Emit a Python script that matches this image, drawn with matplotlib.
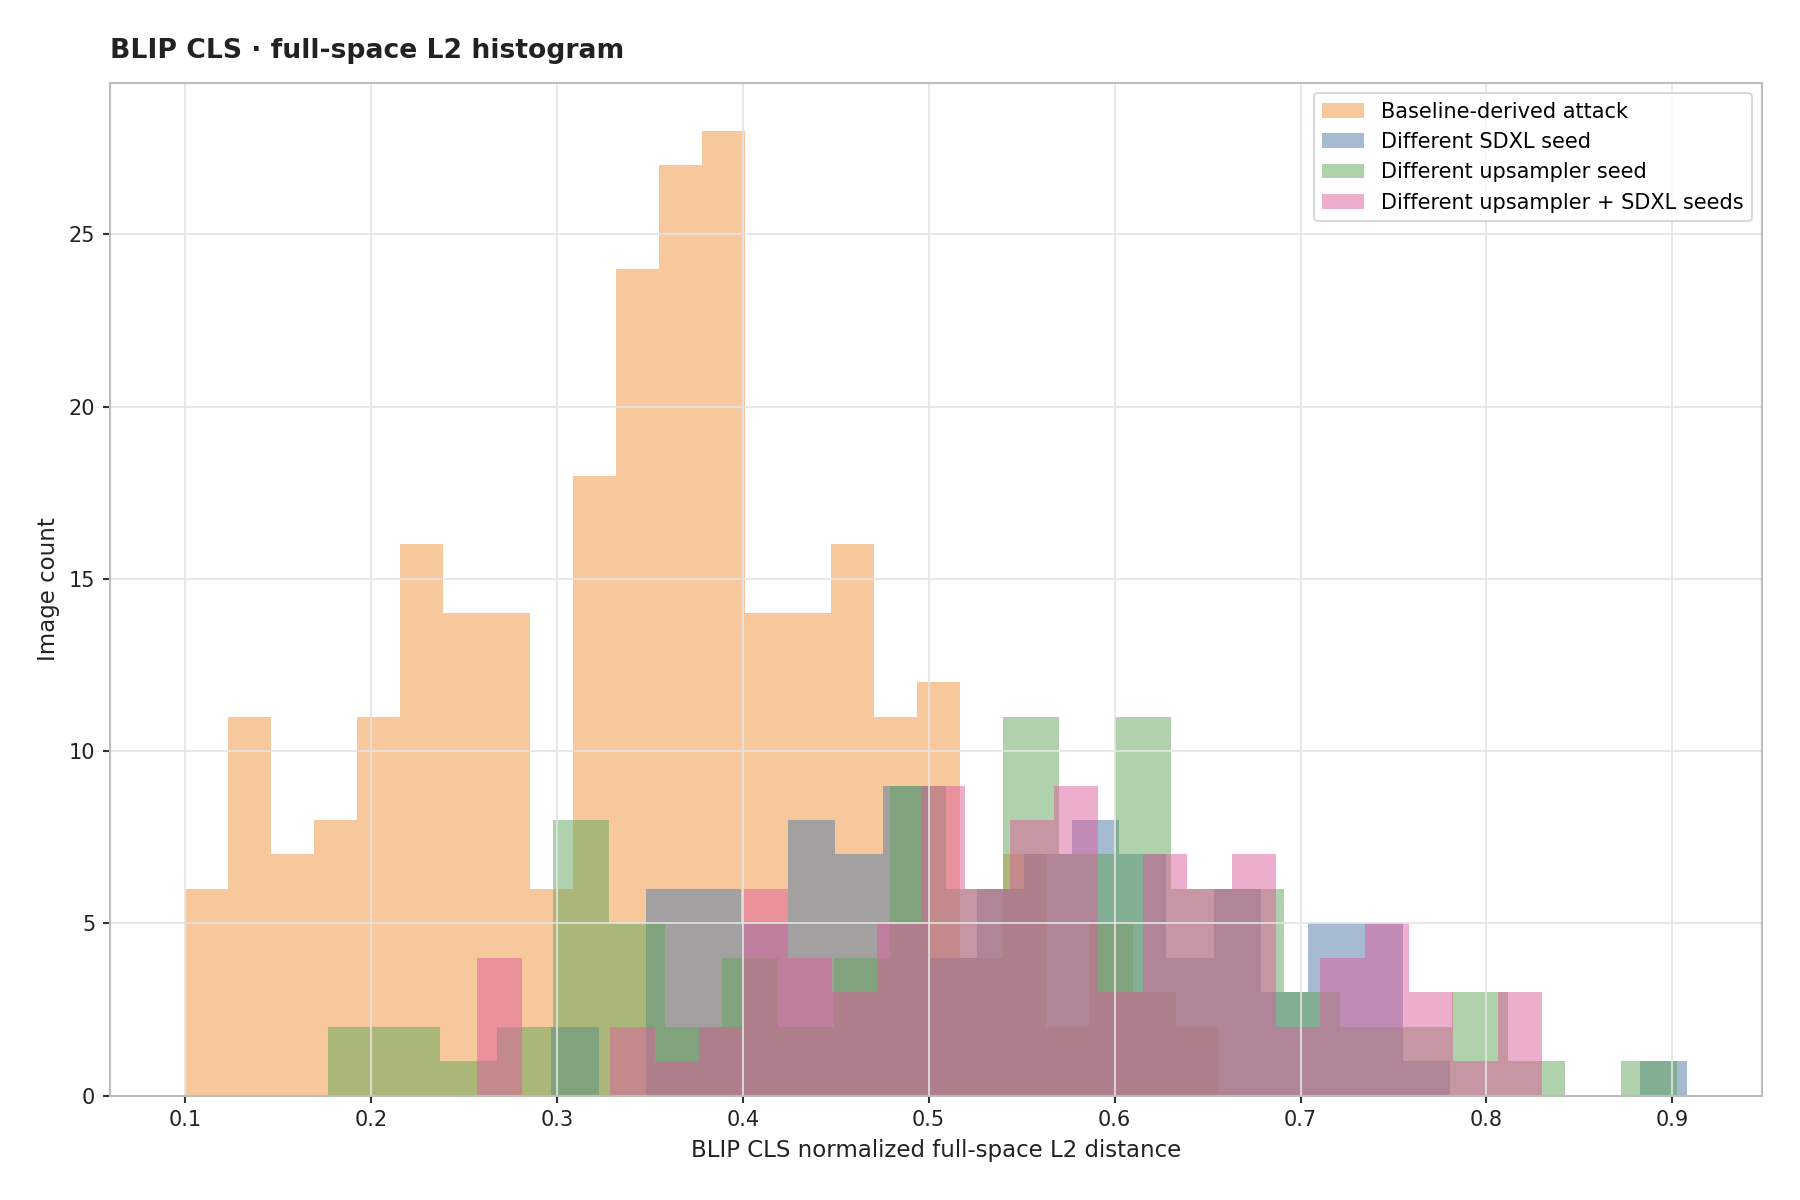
import numpy as np
import matplotlib
matplotlib.use("Agg")
import matplotlib.pyplot as plt

# -- 24 bins per set, spanning min..max of each set of distances
n_bins = 24
baseline_range = (0.1000, 0.6560)
sdxl_range = (0.2970, 0.9079)
ups_range = (0.1770, 0.9025)
both_range = (0.2572, 0.8300)

# -- image counts per bin
baseline_counts = [6, 11, 7, 8, 11, 16, 14, 14, 6, 18, 24, 27,
                   28, 14, 14, 16, 11, 12, 4, 7, 2, 5, 3, 2]
sdxl_counts = [2, 0, 6, 6, 5, 8, 7, 9, 4, 6, 7, 8,
               7, 4, 6, 3, 5, 5, 1, 0, 0, 0, 0, 1]
ups_counts = [2, 2, 1, 2, 8, 5, 2, 4, 2, 4, 9, 6,
              11, 7, 11, 6, 6, 3, 2, 2, 3, 1, 0, 1]
both_counts = [4, 0, 0, 2, 1, 2, 6, 4, 3, 5, 9, 6,
               8, 9, 3, 7, 6, 7, 2, 4, 5, 3, 1, 3]

labels = ["Baseline-derived attack", "Different SDXL seed",
          "Different upsampler seed", "Different upsampler + SDXL seeds"]
colors = ["#F0923A", "#4E79A7", "#60A558", "#DD5D9B"]


def main():
    fig = plt.figure(figsize=(12, 8), dpi=150)
    ax = fig.add_axes([0.061, 0.087, 0.918, 0.844])

    series = [(baseline_counts, baseline_range),
              (sdxl_counts, sdxl_range),
              (ups_counts, ups_range),
              (both_counts, both_range)]
    for (counts, rng), lab, col in zip(series, labels, colors):
        edges = np.linspace(rng[0], rng[1], n_bins + 1)
        ax.stairs(counts, edges, fill=True, color=col, alpha=0.5,
                  linewidth=0, label=lab)

    ax.set_xticks(np.arange(0.1, 0.95, 0.1))
    ax.set_yticks([0, 5, 10, 15, 20, 25])
    ax.grid(True, color="#E4E4E4", linewidth=0.8)
    for sp in ax.spines.values():
        sp.set_color("#B9C0B9")
        sp.set_linewidth(1.0)
    ax.tick_params(colors="#333333", labelcolor="#222222", length=3.5,
                   width=1, labelsize=10)

    ax.set_title("BLIP CLS · full-space L2 histogram", loc="left",
                 fontsize=12.8, fontweight="bold", color="#222222", pad=12)
    ax.set_xlabel("BLIP CLS normalized full-space L2 distance",
                  fontsize=11, color="#222222")
    ax.set_ylabel("Image count", fontsize=11, color="#222222")

    leg = ax.legend(loc="upper right", fontsize=10, frameon=True)
    leg.get_frame().set_edgecolor("#D0D0D0")

    fig.savefig("out.png", dpi=150)


main()
